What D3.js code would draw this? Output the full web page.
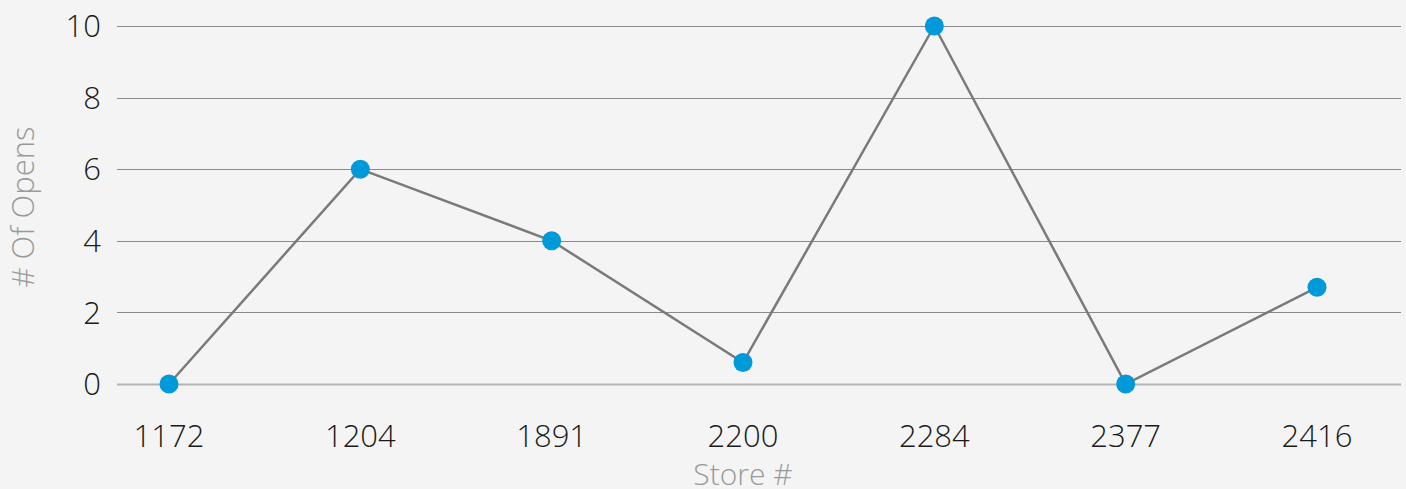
<!DOCTYPE html>
<html><head><meta charset="utf-8">
<script src="https://cdn.jsdelivr.net/npm/d3@7"></script>
<style>
html,body{margin:0;padding:0;background:#f4f4f4;}
svg{display:block;}
text{font-family:"Open Sans",sans-serif;font-weight:300;}
</style></head>
<body><svg id="c" width="1406" height="489"></svg>
<script>
const categories = ["1172","1204","1891","2200","2284","2377","2416"];
const opens = [0, 6, 4, 0.6, 10, 0, 2.7];
const yTicks = [0, 2, 4, 6, 8, 10];
const xTitle = "Store #";
const yTitle = "# Of Opens";

const svg = d3.select("#c");
svg.append("rect").attr("width",1406).attr("height",489).attr("fill","#f4f4f4");

const x = d3.scalePoint().domain(categories).range([169, 1317]);
const y = d3.scaleLinear().domain([0, 10]).range([384, 26]);
const gridL = 117, gridR = 1401;

// gridlines
svg.append("g").selectAll("line").data(yTicks).join("line")
  .attr("x1", gridL).attr("x2", gridR)
  .attr("y1", d => Math.round(y(d)) + 0.5).attr("y2", d => Math.round(y(d)) + 0.5)
  .attr("stroke", d => d === 0 ? "#b4b4b4" : "#8a8a8a")
  .attr("stroke-width", d => d === 0 ? 2 : 1);

// y tick labels
svg.append("g").selectAll("text").data(yTicks).join("text")
  .attr("x", 101).attr("y", d => y(d))
  .attr("dy", "0.36em").attr("text-anchor", "end")
  .attr("font-size", 31).attr("fill", "#1a1a1a")
  .text(d => d);

// x tick labels
svg.append("g").selectAll("text").data(categories).join("text")
  .attr("x", d => x(d)).attr("y", 436)
  .attr("dy", "0.36em").attr("text-anchor", "middle")
  .attr("font-size", 31).attr("fill", "#1a1a1a")
  .text(d => d);

// axis titles
svg.append("text").attr("x", 743).attr("y", 474).attr("dy","0.36em")
  .attr("text-anchor","middle").attr("font-size", 30).attr("fill","#9a9a9a").text(xTitle);
svg.append("text").attr("transform","translate(23,207) rotate(-90)").attr("dy","0.36em")
  .attr("text-anchor","middle").attr("font-size", 31).attr("fill","#9a9a9a").text(yTitle);

// line
const line = d3.line().x((d,i) => x(categories[i])).y(d => y(d));
svg.append("path").datum(opens).attr("d", line)
  .attr("fill","none").attr("stroke","#7a7a7a").attr("stroke-width",2.5);

// points
svg.append("g").selectAll("circle").data(opens).join("circle")
  .attr("cx",(d,i) => x(categories[i])).attr("cy", d => y(d))
  .attr("r", 9.5).attr("fill","#0099da");
</script></body></html>
